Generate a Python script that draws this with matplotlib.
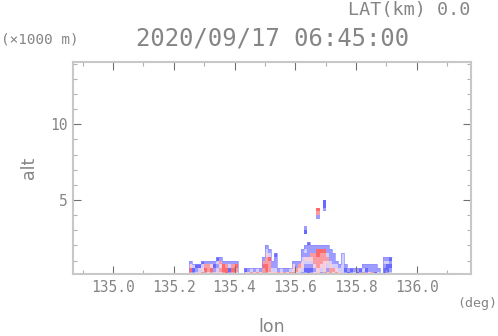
import matplotlib
matplotlib.use('Agg')
import numpy as np
import matplotlib.pyplot as plt
from matplotlib.colors import LinearSegmentedColormap, Normalize
from matplotlib.ticker import MultipleLocator, FormatStrFormatter

# ---------------- data ----------------
TITLE = "2020/09/17 06:45:00"
LAT_LABEL = "LAT(km) 0.0"
UNIT_Y = "(\u00d71000 m)"
UNIT_X = "(deg)"
XLABEL = "lon"
YLABEL = "alt"

LON0 = 135.24      # left edge of first column (deg)
DLON = 0.01        # column width (deg)
DALT = 0.25        # row height (km)

# velocity code per cell, each string goes bottom -> top, '.' = no echo
CODE = {'B': -8, 'b': -5, 'c': -2, 'w': 0, 'p': 2, 'r': 5, 'R': 8}
COLS = [
    '', 'rRpb', 'bBc', 'cbB', 'pcB', 'rpcB', 'rRrb', 'prrb', 'rRpb', 'cbBb',
    'pcbcB', 'prprb', 'rRRb', 'RRrb', 'bBcb', 'rRrb', 'prRb', '', '', 'cB',
    'pb', 'rc', 'pb', 'rc', 'pb', 'rrRrb', 'rRRrrpcb', 'prrrRcb', 'pcbb', 'pcbbbB',
    'rb', 'pc', 'rb', 'pb', 'rc', 'rppb', 'prbb', 'cprb', 'bcppcbb', 'bBbcpbcb...Bb',
    'BBbcpbbbB', 'bBbcprbb', 'pbprrrbb', 'pprrrRRb.......brR', 'bcprrrRb',
    'rppprrRb.........bBB', 'pbcprcbb', 'rrpcbbb', 'prcbbb', 'rpcb',
    'pcb', 'cccccc', 'bBb', 'Bb', 'bB', 'cb', 'Bb', 'bB', 'rcb', 'bBb',
    'pbb', 'rbb', 'Bbb', 'cb', '', 'BBbcb', 'bBBcb', 'cbBbB',
]

XLIM = (134.868, 136.179)
YLIM = (0.11, 14.12)

# ---------------- build grid ----------------
nrow = max(len(c) for c in COLS)
grid = np.full((nrow, len(COLS)), np.nan)
for j, col in enumerate(COLS):
    for i, ch in enumerate(col):
        if ch in CODE:
            grid[i, j] = CODE[ch]
grid = np.ma.masked_invalid(grid)
lon_edges = LON0 + DLON * np.arange(len(COLS) + 1)
alt_edges = DALT * np.arange(nrow + 1)
tops = np.array([len(c.split('.')[0]) * DALT for c in COLS])

# ---------------- figure ----------------
W, H = 498, 336
fig = plt.figure(figsize=(W / 100, H / 100), dpi=100)
L, R, B, T = 73, 471, 274, 62
ax = fig.add_axes([L / W, 1 - B / H, (R - L) / W, (B - T) / H])

cmap = LinearSegmentedColormap.from_list(
    'rb', ['#4848ff', '#f4f0ff', '#ff4848'])
ax.pcolormesh(lon_edges, alt_edges, grid, cmap=cmap,
              norm=Normalize(-10, 10), shading='flat', edgecolors='none')
ax.stairs(tops, lon_edges, baseline=None, color='#8c8cff', lw=0.5)

ax.set_xlim(*XLIM)
ax.set_ylim(*YLIM)

ax.xaxis.set_major_locator(MultipleLocator(0.2))
ax.xaxis.set_minor_locator(MultipleLocator(0.1))
ax.xaxis.set_major_formatter(FormatStrFormatter('%.1f'))
ax.yaxis.set_major_locator(MultipleLocator(5))
ax.yaxis.set_minor_locator(MultipleLocator(1))
ax.yaxis.set_major_formatter(FormatStrFormatter('%d'))

txtc = '#858585'
ax.tick_params(which='both', direction='in', top=True, right=True,
               labelcolor=txtc)
ax.tick_params(which='major', length=5.8, width=0.8, color='#707070', pad=4)
ax.tick_params(which='minor', length=3.0, width=0.8, color='#b0b0b0')
for lab in ax.get_xticklabels() + ax.get_yticklabels():
    lab.set_family('DejaVu Sans Mono')
    lab.set_fontsize(10.5)
for s in ax.spines.values():
    s.set_color('#c8c8c8')
    s.set_linewidth(1.5)

def fx(px):
    return px / W

def fy(py):
    return 1 - py / H

fig.text(fx(470), fy(10), LAT_LABEL, ha='right', va='center',
         family='DejaVu Sans Mono', fontsize=13.2, color=txtc)
fig.text(fx(272.5), fy(39), TITLE, ha='center', va='center',
         family='DejaVu Sans Mono', fontsize=17.2, color=txtc)
fig.text(fx(1), fy(39.5), UNIT_Y, ha='left', va='center',
         family='DejaVu Sans Mono', fontsize=10.4, color=txtc)
fig.text(fx(497), fy(304), UNIT_X, ha='right', va='center',
         family='DejaVu Sans Mono', fontsize=9.6, color=txtc)
fig.text(fx(272), fy(327), XLABEL, ha='center', va='center',
         family='DejaVu Sans', fontsize=12.5, color=txtc)
fig.text(fx(29), fy(168), YLABEL, ha='center', va='center', rotation=90,
         family='DejaVu Sans', fontsize=12.5, color=txtc)

fig.savefig('out.png', dpi=100)
